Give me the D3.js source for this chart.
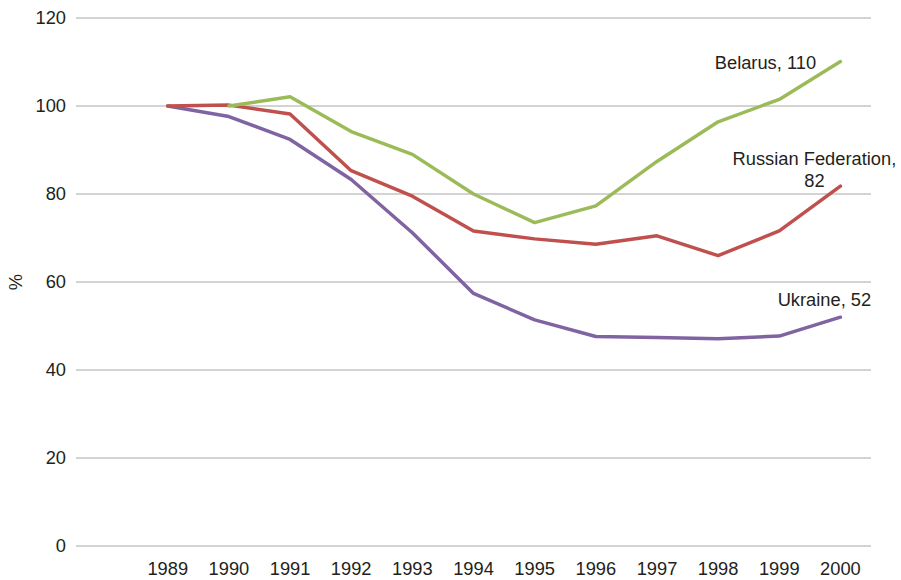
<!DOCTYPE html>
<html>
<head>
<meta charset="utf-8">
<script src="https://cdn.jsdelivr.net/npm/d3@7"></script>
<style>
  html, body { margin: 0; padding: 0; background: #fff; }
  svg { display: block; font-family: "Liberation Sans", Arial, Helvetica, sans-serif; }
</style>
</head>
<body>
<svg id="chart" width="901" height="580"></svg>
<script>
// Index of output (1989 = 100), per country
const years = ["1989", "1990", "1991", "1992", "1993", "1994", "1995", "1996", "1997", "1998", "1999", "2000"];
const belarus = [null, 100, 102.1, 94.2, 89.0, 80.0, 73.5, 77.3, 87.4, 96.4, 101.5, 110.1];
const russia  = [100, 100.2, 98.2, 85.3, 79.5, 71.6, 69.8, 68.6, 70.5, 66.0, 71.6, 81.8];
const ukraine = [100, 97.6, 92.4, 83.3, 71.2, 57.4, 51.4, 47.6, 47.4, 47.1, 47.7, 52.0];
const yTicks = [0, 20, 40, 60, 80, 100, 120];
const endLabels = {
  belarus: ["Belarus, 110"],
  russia: ["Russian Federation,", "82"],
  ukraine: ["Ukraine, 52"]
};

const svg = d3.select("#chart");
const plotLeft = 76, plotRight = 871, plotTop = 18, plotBottom = 546;
const fontSize = 18.3;
const textColor = "#231f20";

// one leading blank category keeps the first year off the left edge
const x = d3.scaleBand().domain([""].concat(years)).range([plotLeft, plotRight]).paddingInner(0).paddingOuter(0);
const cx = d => x(d) + x.bandwidth() / 2;
const y = d3.scaleLinear().domain([0, 120]).range([plotBottom, plotTop]);

// horizontal gridlines
svg.append("g")
  .selectAll("line")
  .data(yTicks)
  .join("line")
  .attr("x1", plotLeft).attr("x2", plotRight)
  .attr("y1", d => y(d)).attr("y2", d => y(d))
  .attr("stroke", "#c4c4c4").attr("stroke-width", 1.5);

// y axis labels
const yAxis = d3.axisLeft(y).tickValues(yTicks).tickSize(0).tickPadding(0).tickFormat(d3.format("d"));
svg.append("g")
  .attr("transform", `translate(${plotLeft - 10},0)`)
  .call(yAxis)
  .call(g => g.select(".domain").remove())
  .selectAll("text")
  .attr("font-size", fontSize).attr("fill", textColor)
  .attr("font-family", "Liberation Sans, Arial, sans-serif");

// x axis labels
const xAxis = d3.axisBottom(x).tickValues(years).tickSize(0).tickPadding(0);
svg.append("g")
  .attr("transform", `translate(0,${plotBottom + 16})`)
  .call(xAxis)
  .call(g => g.select(".domain").remove())
  .selectAll("text")
  .attr("font-size", fontSize).attr("fill", textColor)
  .attr("font-family", "Liberation Sans, Arial, sans-serif");

// y axis title
svg.append("text")
  .attr("transform", `translate(22,${(plotTop + plotBottom) / 2}) rotate(-90)`)
  .attr("text-anchor", "middle")
  .attr("font-size", fontSize).attr("fill", textColor)
  .text("%");

const line = d3.line()
  .defined(d => d.v !== null)
  .x(d => cx(d.year))
  .y(d => y(d.v));

const series = [
  { key: "belarus", values: belarus, color: "#9bbb59" },
  { key: "russia", values: russia, color: "#c0504d" },
  { key: "ukraine", values: ukraine, color: "#8064a2" }
];

// draw lines: Ukraine first so Russia and Belarus sit on top
series.slice().reverse().forEach(s => {
  svg.append("path")
    .datum(years.map((yr, i) => ({ year: yr, v: s.values[i] })))
    .attr("fill", "none")
    .attr("stroke", s.color)
    .attr("stroke-width", 3.5)
    .attr("stroke-linejoin", "round")
    .attr("stroke-linecap", "round")
    .attr("d", line);
});

// end-of-line labels
const lastYear = years[years.length - 1];
const lastX = cx(lastYear);

function addLabel(lines, anchorX, baseY) {
  const t = svg.append("text")
    .attr("text-anchor", "middle")
    .attr("font-size", fontSize)
    .attr("fill", textColor);
  lines.forEach((ln, i) => {
    t.append("tspan").attr("x", anchorX).attr("y", baseY + i * 22).text(ln);
  });
}

addLabel(endLabels.belarus, lastX - 75, y(belarus[belarus.length - 1]) + 7);
addLabel(endLabels.russia, lastX - 26, y(russia[russia.length - 1]) - 21);
addLabel(endLabels.ukraine, lastX - 16, y(ukraine[ukraine.length - 1]) - 11);
</script>
</body>
</html>
